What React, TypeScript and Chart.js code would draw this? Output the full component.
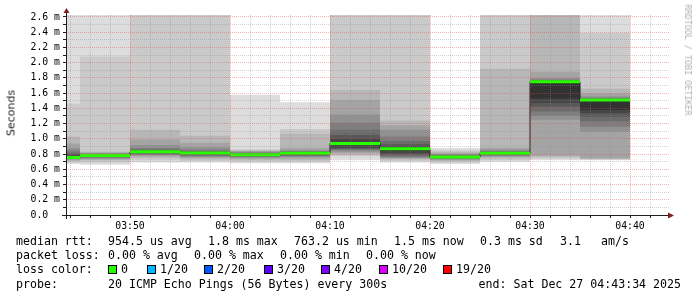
import React, { useEffect, useRef } from 'react';
import { Chart, registerables } from 'chart.js';

Chart.register(...registerables);

// ---------------- data ----------------
// start of each 5-minute smokeping step
const slotStarts = ['03:40', '03:45', '03:50', '03:55', '04:00', '04:05', '04:10', '04:15', '04:20', '04:25', '04:30', '04:35'];

// 20 sorted ping RTTs (ms) per step; values above the graph top are clipped
const pings0340 = [0.67, 0.69, 0.71, 0.72, 0.73, 0.74, 0.745, 0.75, 0.755, 0.76, 0.77, 0.78, 0.80, 0.82, 0.85, 0.88, 0.94, 1.03, 1.46, 2.9];
const pings0345 = [0.66, 0.69, 0.72, 0.73, 0.74, 0.75, 0.76, 0.765, 0.77, 0.775, 0.785, 0.79, 0.795, 0.80, 0.805, 0.81, 0.82, 0.83, 2.08, 2.9];
const pings0350 = [0.69, 0.72, 0.75, 0.77, 0.78, 0.79, 0.80, 0.81, 0.815, 0.825, 0.83, 0.84, 0.85, 0.86, 0.88, 0.92, 0.99, 1.12, 2.9, 2.9];
const pings0355 = [0.69, 0.71, 0.73, 0.75, 0.76, 0.77, 0.78, 0.79, 0.80, 0.805, 0.815, 0.82, 0.83, 0.84, 0.86, 0.89, 0.95, 1.04, 2.9, 2.9];
const pings0400 = [0.68, 0.70, 0.72, 0.74, 0.75, 0.76, 0.77, 0.775, 0.78, 0.785, 0.79, 0.795, 0.80, 0.81, 0.82, 0.83, 0.84, 0.85, 0.86, 1.58];
const pings0405 = [0.68, 0.70, 0.72, 0.74, 0.76, 0.77, 0.78, 0.785, 0.79, 0.80, 0.81, 0.815, 0.82, 0.83, 0.84, 0.85, 0.88, 1.07, 1.13, 1.48];
const pings0410 = [0.72, 0.77, 0.79, 0.81, 0.83, 0.85, 0.86, 0.87, 0.88, 0.92, 0.95, 1.0, 1.05, 1.12, 1.21, 1.32, 1.51, 1.64, 2.9, 2.9];
const pings0415 = [0.69, 0.71, 0.73, 0.74, 0.75, 0.76, 0.77, 0.79, 0.81, 0.84, 0.885, 0.90, 0.93, 0.97, 1.03, 1.12, 1.18, 1.24, 2.9, 2.9];
const pings0420 = [0.67, 0.69, 0.71, 0.72, 0.73, 0.74, 0.745, 0.75, 0.755, 0.76, 0.765, 0.77, 0.775, 0.78, 0.79, 0.80, 0.81, 0.83, 0.85, 0.88];
const pings0425 = [0.70, 0.72, 0.74, 0.76, 0.77, 0.78, 0.785, 0.79, 0.80, 0.805, 0.81, 0.815, 0.82, 0.83, 0.84, 0.86, 0.88, 1.92, 2.9, 2.9];
const pings0430 = [0.72, 0.74, 0.76, 0.78, 1.25, 1.30, 1.36, 1.42, 1.47, 1.53, 1.755, 1.76, 1.765, 1.77, 1.78, 1.80, 1.88, 2.9, 2.9, 2.9];
const pings0435 = [0.72, 0.725, 0.735, 0.745, 1.09, 1.16, 1.23, 1.29, 1.34, 1.38, 1.515, 1.52, 1.525, 1.53, 1.54, 1.56, 1.60, 1.66, 2.39, 2.9];

const medianRtt = [0.755, 0.78, 0.83, 0.815, 0.79, 0.81, 0.94, 0.87, 0.76, 0.81, 1.75, 1.51];
const lossPerStep = [0, 0, 0, 0, 0, 0, 0, 0, 0, 0, 0, 0];

const xTickLabels = ['03:50', '04:00', '04:10', '04:20', '04:30', '04:40'];
const yTickValues = [0, 0.2, 0.4, 0.6, 0.8, 1.0, 1.2, 1.4, 1.6, 1.8, 2.0, 2.2, 2.4, 2.6];
const yTickLabels = ['0.0  ', '0.2 m', '0.4 m', '0.6 m', '0.8 m', '1.0 m', '1.2 m', '1.4 m', '1.6 m', '1.8 m', '2.0 m', '2.2 m', '2.4 m', '2.6 m'];

const lossLegendLabels = ['0', '1/20', '2/20', '3/20', '4/20', '10/20', '19/20'];
const lossLegendThresholds = [0, 1, 2, 3, 4, 10, 19];
const lossLegendColors = ['#26ff00', '#00b8ff', '#0059ff', '#5e00ff', '#7e00ff', '#dd00ff', '#ff0000'];

const rttSummary = ['median rtt:', '954.5 us avg', '1.8 ms max', '763.2 us min', '1.5 ms now', '0.3 ms sd', '3.1', 'am/s'];
const lossSummary = ['packet loss:', '0.00 % avg', '0.00 % max', '0.00 % min', '0.00 % now'];
const probeText = ['probe:', '20 ICMP Echo Pings (56 Bytes) every 300s'];
const endText = 'end: Sat Dec 27 04:43:34 2025';
const yTitle = 'Seconds';
const watermark = 'RRDTOOL / TOBI OETIKER';

// ---------------- layout / style ----------------
const W = 697;
const H = 297;
const PLOT = { left: 66, right: 669, top: 15, bottom: 215 };
const X_MIN = 3.6; // minutes after 03:40
const X_MAX = 63.9;
const Y_MAX = 2.626;
const STEP_MIN = 5;
const STEP_PX = ((PLOT.right - PLOT.left) / (X_MAX - X_MIN)) * STEP_MIN;
const GRID = 'rgba(143,143,143,0.4)';
const MGRID = 'rgba(222,79,79,0.42)';
const AXIS = '#1f1f1f';
const ARROW = '#801f1f';
const MONO = '"DejaVu Sans Mono", monospace';

const rttPos = [16, 108, 208, 294, 394, 480, 560, 601];
const lossPos = [16, 108, 194, 280, 366];
const boxPos = [108, 147, 204, 264, 321, 379, 443];
const probePos = [16, 108];
const rowY = [234, 248, 262, 277];

function toMin(hhmm: string) {
  const [h, m] = hhmm.split(':').map(Number);
  return h * 60 + m - (3 * 60 + 40);
}

const smokeColumns = [pings0340, pings0345, pings0350, pings0355, pings0400, pings0405, pings0410, pings0415, pings0420, pings0425, pings0430, pings0435];

function lossColor(loss: number) {
  let c = lossLegendColors[0];
  lossLegendThresholds.forEach((t, i) => {
    if (loss >= t) c = lossLegendColors[i];
  });
  return c;
}

const axesPlugin = {
  id: 'rrdAxes',
  afterDraw(chart: any) {
    const { ctx, chartArea: a } = chart;
    ctx.save();
    ctx.strokeStyle = AXIS;
    ctx.lineWidth = 1;
    ctx.beginPath();
    ctx.moveTo(a.left + 0.5, a.bottom + 4);
    ctx.lineTo(a.left + 0.5, a.top - 3);
    ctx.moveTo(a.left - 4, a.bottom + 0.5);
    ctx.lineTo(a.right + 1, a.bottom + 0.5);
    ctx.stroke();
    ctx.fillStyle = ARROW;
    ctx.beginPath();
    ctx.moveTo(a.left - 2.5, a.top - 2);
    ctx.lineTo(a.left + 3.5, a.top - 2);
    ctx.lineTo(a.left + 0.5, a.top - 7);
    ctx.closePath();
    ctx.fill();
    ctx.beginPath();
    ctx.moveTo(a.right - 1, a.bottom - 2.5);
    ctx.lineTo(a.right - 1, a.bottom + 3.5);
    ctx.lineTo(a.right + 5, a.bottom + 0.5);
    ctx.closePath();
    ctx.fill();
    ctx.restore();
  },
};

export default function App() {
  const ref = useRef<HTMLCanvasElement>(null);

  useEffect(() => {
    if (!ref.current) return;
    const starts = slotStarts.map(toMin);
    const last = starts.length - 1;
    const half = 10;
    const datasets: any[] = [];
    for (let ibot = 1; ibot <= half; ibot++) {
      const itop = 21 - ibot;
      const g = Math.floor((190 / half) * (half - ibot)) + 50;
      datasets.push({
        type: 'bar',
        data: starts.map((s, c) => ({ x: s + STEP_MIN / 2, y: [smokeColumns[c][ibot - 1], smokeColumns[c][itop - 1]] })),
        backgroundColor: `rgb(${g},${g},${g})`,
        grouped: false,
        barThickness: STEP_PX,
        inflateAmount: 0,
        borderWidth: 0,
        order: 100 - ibot,
      });
    }
    // thin dark median line, stepped (value holds until the end of its step)
    const medPts = starts.map((s, c) => ({ x: s, y: medianRtt[c] }));
    medPts.push({ x: starts[last] + STEP_MIN, y: medianRtt[last] });
    datasets.push({
      type: 'line',
      data: medPts,
      stepped: 'before',
      borderColor: '#202020',
      borderWidth: 1,
      pointRadius: 0,
      fill: false,
      order: 2,
    });
    // loss-coloured median bars (horizontal only)
    const lossPts: any[] = [];
    starts.forEach((s, c) => {
      lossPts.push({ x: s, y: medianRtt[c] }, { x: s + STEP_MIN, y: medianRtt[c] }, { x: s + STEP_MIN, y: null });
    });
    datasets.push({
      type: 'line',
      data: lossPts,
      borderColor: lossColor(0),
      segment: { borderColor: (ctx: any) => lossColor(lossPerStep[Math.floor(ctx.p0DataIndex / 3)]) },
      borderWidth: 3,
      borderCapStyle: 'butt',
      pointRadius: 0,
      spanGaps: false,
      fill: false,
      order: 1,
    });

    const xMajor = new Map<number, string>();
    xTickLabels.forEach((l) => xMajor.set(toMin(l), l));
    const xGrid: number[] = [];
    for (let m = Math.ceil(X_MIN / 2) * 2; m <= X_MAX; m += 2) xGrid.push(m);
    const yGrid: number[] = [];
    for (let i = 0; i <= Math.round(yTickValues[yTickValues.length - 1] * 10); i++) yGrid.push(i / 10);

    const chart = new Chart(ref.current, {
      type: 'bar',
      data: { datasets },
      options: {
        animation: false,
        responsive: false,
        events: [],
        layout: { padding: { left: 0, top: PLOT.top, right: W - PLOT.right, bottom: 0 } },
        plugins: { legend: { display: false }, tooltip: { enabled: false }, title: { display: false } },
        scales: {
          x: {
            type: 'linear',
            min: X_MIN,
            max: X_MAX,
            offset: false,
            afterBuildTicks: (s: any) => {
              s.ticks = xGrid.map((v) => ({ value: v }));
            },
            afterFit: (s: any) => {
              s.height = H - PLOT.bottom;
            },
            grid: {
              z: 1,
              offset: false,
              lineWidth: 1,
              color: (c: any) => (c.tick && xMajor.has(c.tick.value) ? MGRID : GRID),
              tickLength: 3,
              tickColor: AXIS,
            },
            border: { display: false, dash: [1, 1] },
            ticks: {
              autoSkip: false,
              maxRotation: 0,
              minRotation: 0,
              padding: 3,
              color: '#000',
              font: { family: MONO, size: 9.8 },
              callback: (v: any) => xMajor.get(v) ?? '',
            },
          },
          y: {
            type: 'linear',
            min: 0,
            max: Y_MAX,
            afterBuildTicks: (s: any) => {
              s.ticks = yGrid.map((v) => ({ value: v }));
            },
            afterFit: (s: any) => {
              s.width = PLOT.left;
            },
            grid: {
              z: 1,
              lineWidth: 1,
              color: (c: any) => (c.tick && Math.round(c.tick.value * 10) % 2 === 0 ? MGRID : GRID),
              tickLength: 3,
              tickColor: AXIS,
            },
            border: { display: false, dash: [1, 1] },
            ticks: {
              autoSkip: false,
              padding: 3,
              color: '#000',
              font: { family: MONO, size: 9.8 },
              callback: (v: any) => {
                const i = Math.round(v * 10);
                return i % 2 === 0 ? yTickLabels[i / 2] ?? '' : '';
              },
            },
          },
        },
      },
      plugins: [axesPlugin],
    } as any);
    return () => chart.destroy();
  }, []);

  const textStyle: React.CSSProperties = {
    position: 'absolute',
    fontFamily: MONO,
    fontSize: 11.6,
    lineHeight: '14px',
    color: '#000',
    whiteSpace: 'pre',
  };

  return (
    <div style={{ position: 'absolute', left: 0, top: 0, width: W, height: H, background: '#fff', overflow: 'hidden' }}>
      <canvas ref={ref} width={W} height={H} style={{ display: 'block', width: W, height: H }} />
      <div
        style={{
          position: 'absolute',
          left: 11,
          top: 113,
          transform: 'translate(-50%, -50%) rotate(-90deg)',
          fontFamily: '"DejaVu Sans", sans-serif',
          fontSize: 11,
          color: '#222',
          whiteSpace: 'pre',
        }}
      >
        {yTitle}
      </div>
      <div
        style={{
          position: 'absolute',
          left: 688,
          top: 60,
          transform: 'translate(-50%, -50%) rotate(90deg)',
          fontFamily: MONO,
          fontSize: 8.4,
          color: '#b0b0b0',
          whiteSpace: 'pre',
        }}
      >
        {watermark}
      </div>
      {rttSummary.map((t, i) => (
        <div key={'r' + i} style={{ ...textStyle, left: rttPos[i], top: rowY[0] }}>{t}</div>
      ))}
      {lossSummary.map((t, i) => (
        <div key={'l' + i} style={{ ...textStyle, left: lossPos[i], top: rowY[1] }}>{t}</div>
      ))}
      <div style={{ ...textStyle, left: 16, top: rowY[2] }}>loss color:</div>
      {lossLegendLabels.map((t, i) => (
        <React.Fragment key={'c' + i}>
          <div
            style={{
              position: 'absolute',
              left: boxPos[i],
              top: rowY[2] + 3,
              width: 9,
              height: 9,
              boxSizing: 'border-box',
              border: '1px solid #000',
              background: lossLegendColors[i],
            }}
          />
          <div style={{ ...textStyle, left: boxPos[i] + 13, top: rowY[2] }}>{t}</div>
        </React.Fragment>
      ))}
      {probeText.map((t, i) => (
        <div key={'p' + i} style={{ ...textStyle, left: probePos[i], top: rowY[3] }}>{t}</div>
      ))}
      <div style={{ ...textStyle, right: 16, top: rowY[3] }}>{endText}</div>
    </div>
  );
}
